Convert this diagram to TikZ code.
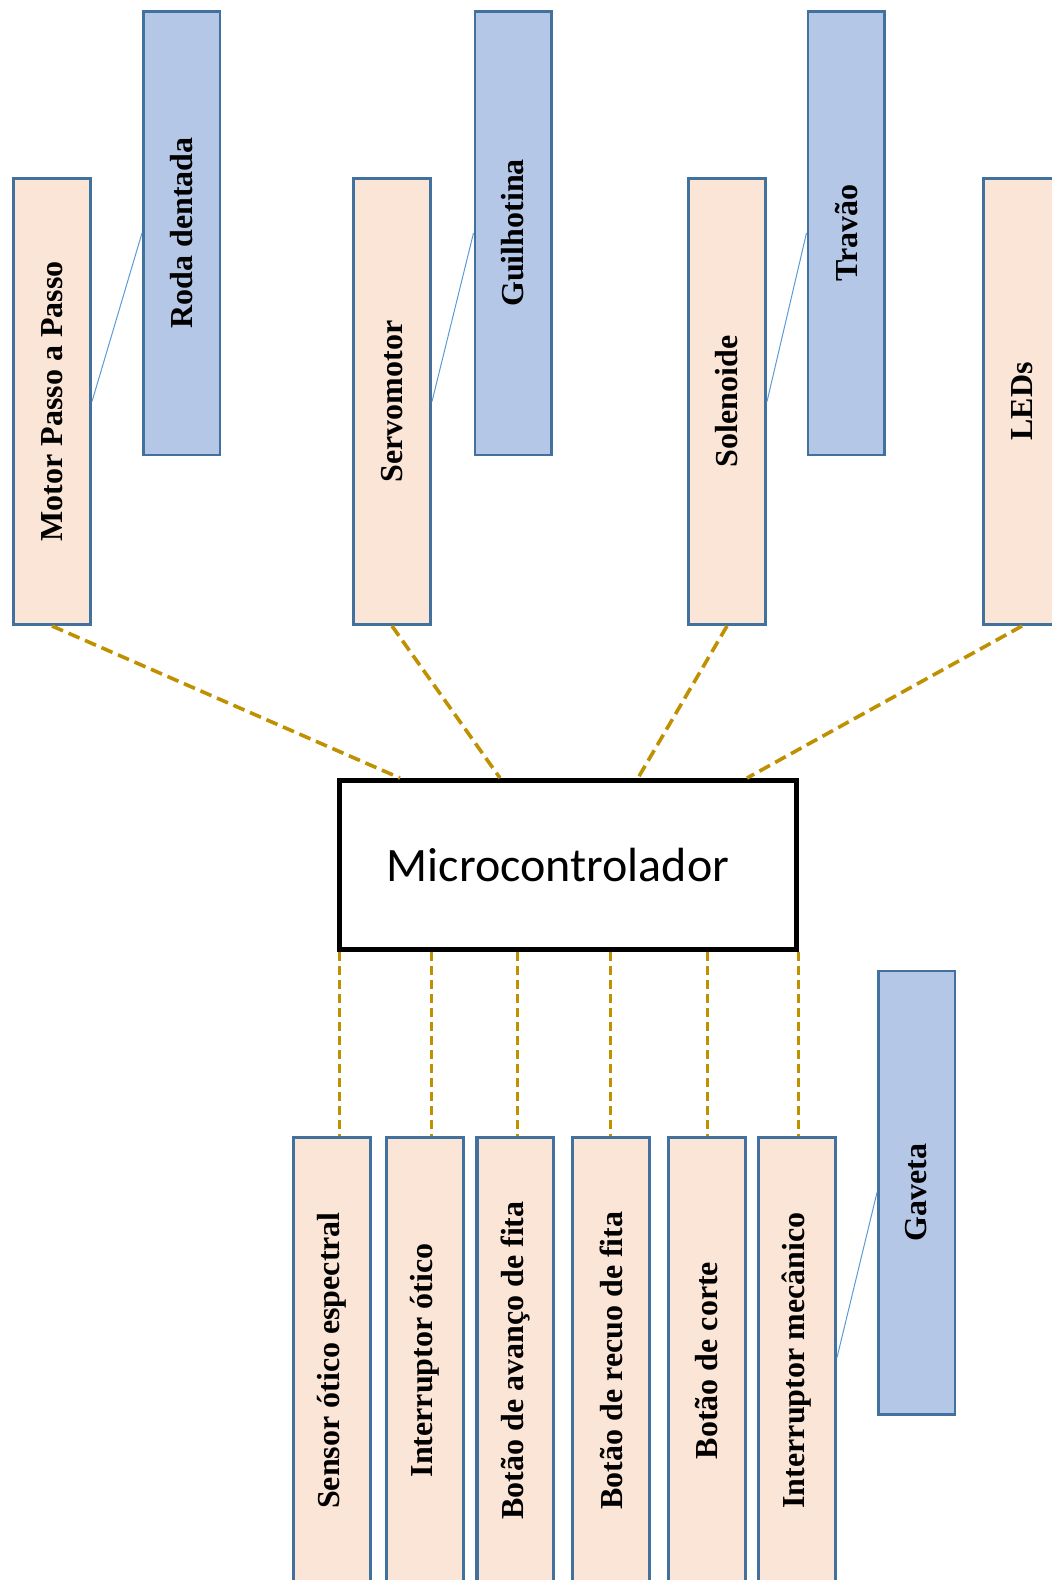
\documentclass[tikz,border=0pt]{standalone}
\usepackage{fontspec}
\setmainfont{Liberation Serif}
\newfontfamily\calibrifont{Carlito}
\usepackage{graphicx}
\usetikzlibrary{positioning, calc}

\definecolor{peach}{HTML}{FBE5D6}
\definecolor{edgeblue}{HTML}{41719C}
\definecolor{mechblue}{HTML}{B4C7E7}
\definecolor{wiregold}{HTML}{BF9000}
\definecolor{linkblue}{HTML}{5B9BD5}

\begin{document}
\begin{tikzpicture}[
    x=0.5pt, y=-0.5pt,
    partbox/.style={draw=edgeblue, line width=1.7pt, fill=peach, minimum width=38.3pt,
                    minimum height=222.8pt, inner sep=0pt, font=\fontsize{16}{18}\selectfont\bfseries},
    mechbox/.style={draw=edgeblue, line width=1.25pt, fill=mechblue, minimum width=38.25pt,
                    minimum height=221.75pt, inner sep=0pt, font=\fontsize{16}{18}\selectfont\bfseries},
    mcubox/.style={draw=black, line width=2.5pt, fill=white, minimum width=228.5pt, minimum height=84.5pt},
    wire/.style={draw=wiregold, line width=1.8pt, dash pattern=on 6pt off 3pt},
    vwire/.style={draw=wiregold, line width=1.5pt, dash pattern=on 4.5pt off 2.5pt},
    link/.style={draw=linkblue, line width=0.5pt},
]
\path[use as bounding box, clip] (0,0) rectangle (1052,1580);

\node[partbox] (motor) at (52,401.5) {\rotatebox{90}{Motor Passo a Passo}};
\node[partbox] (servo) at (392,401.5) {\rotatebox{90}{Servomotor}};
\node[partbox] (solenoide) at (727,401.5) {\rotatebox{90}{Solenoide}};
\node[partbox] (leds) at (1022,401.5) {\rotatebox{90}{LEDs}};

\node[mechbox] (roda) at (181.5,233) {\rotatebox{90}{Roda dentada}};
\node[mechbox] (guilhotina) at (513,233) {\rotatebox{90}{Guilhotina}};
\node[mechbox] (travao) at (846,233) {\rotatebox{90}{Travão}};

\draw[link] (motor.east) -- (roda.west);
\draw[link] (servo.east) -- (guilhotina.west);
\draw[link] (solenoide.east) -- (travao.west);

\node[mcubox, label={[font=\calibrifont\fontsize{24}{26}\selectfont, xshift=-5pt]center:Microcontrolador}]
    (mcu) at (568,865) {};

\draw[wire] (motor.south) -- ([xshift=31.5pt]mcu.north west);
\draw[wire] (servo.south) -- ([xshift=81.5pt]mcu.north west);
\draw[wire] (solenoide.south) -- ([xshift=150.5pt]mcu.north west);
\draw[wire] (leds.south) -- ([xshift=205pt]mcu.north west);

\node[partbox] (sensor) at (332,1360.5) {\rotatebox{90}{Sensor ótico espectral}};
\node[partbox, right=6.5pt of sensor] (intotico) {\rotatebox{90}{Interruptor ótico}};
\node[partbox, right=5.2pt of intotico] (avanco) {\rotatebox{90}{Botão de avanço de fita}};
\node[partbox, right=7.8pt of avanco] (recuo) {\rotatebox{90}{Botão de recuo de fita}};
\node[partbox, right=8pt of recuo] (corte) {\rotatebox{90}{Botão de corte}};
\node[partbox, right=5pt of corte] (intmec) {\rotatebox{90}{Interruptor mecânico}};

\node[mechbox] (gaveta) at (916.5,1192.5) {\rotatebox{90}{Gaveta}};
\draw[link] ([yshift=1.5pt]intmec.east) -- (gaveta.west);

\draw[vwire] ([xshift=1pt]mcu.south west) -- ([xshift=1pt]mcu.south west |- sensor.north);
\draw[vwire] ([xshift=47pt]mcu.south west) -- ([xshift=47pt]mcu.south west |- intotico.north);
\draw[vwire] ([xshift=90pt]mcu.south west) -- ([xshift=90pt]mcu.south west |- avanco.north);
\draw[vwire] ([xshift=136.5pt]mcu.south west) -- ([xshift=136.5pt]mcu.south west |- recuo.north);
\draw[vwire] ([xshift=185pt]mcu.south west) -- ([xshift=185pt]mcu.south west |- corte.north);
\draw[vwire] ([xshift=230.5pt]mcu.south west) -- ([xshift=230.5pt]mcu.south west |- intmec.north);
\end{tikzpicture}
\end{document}
